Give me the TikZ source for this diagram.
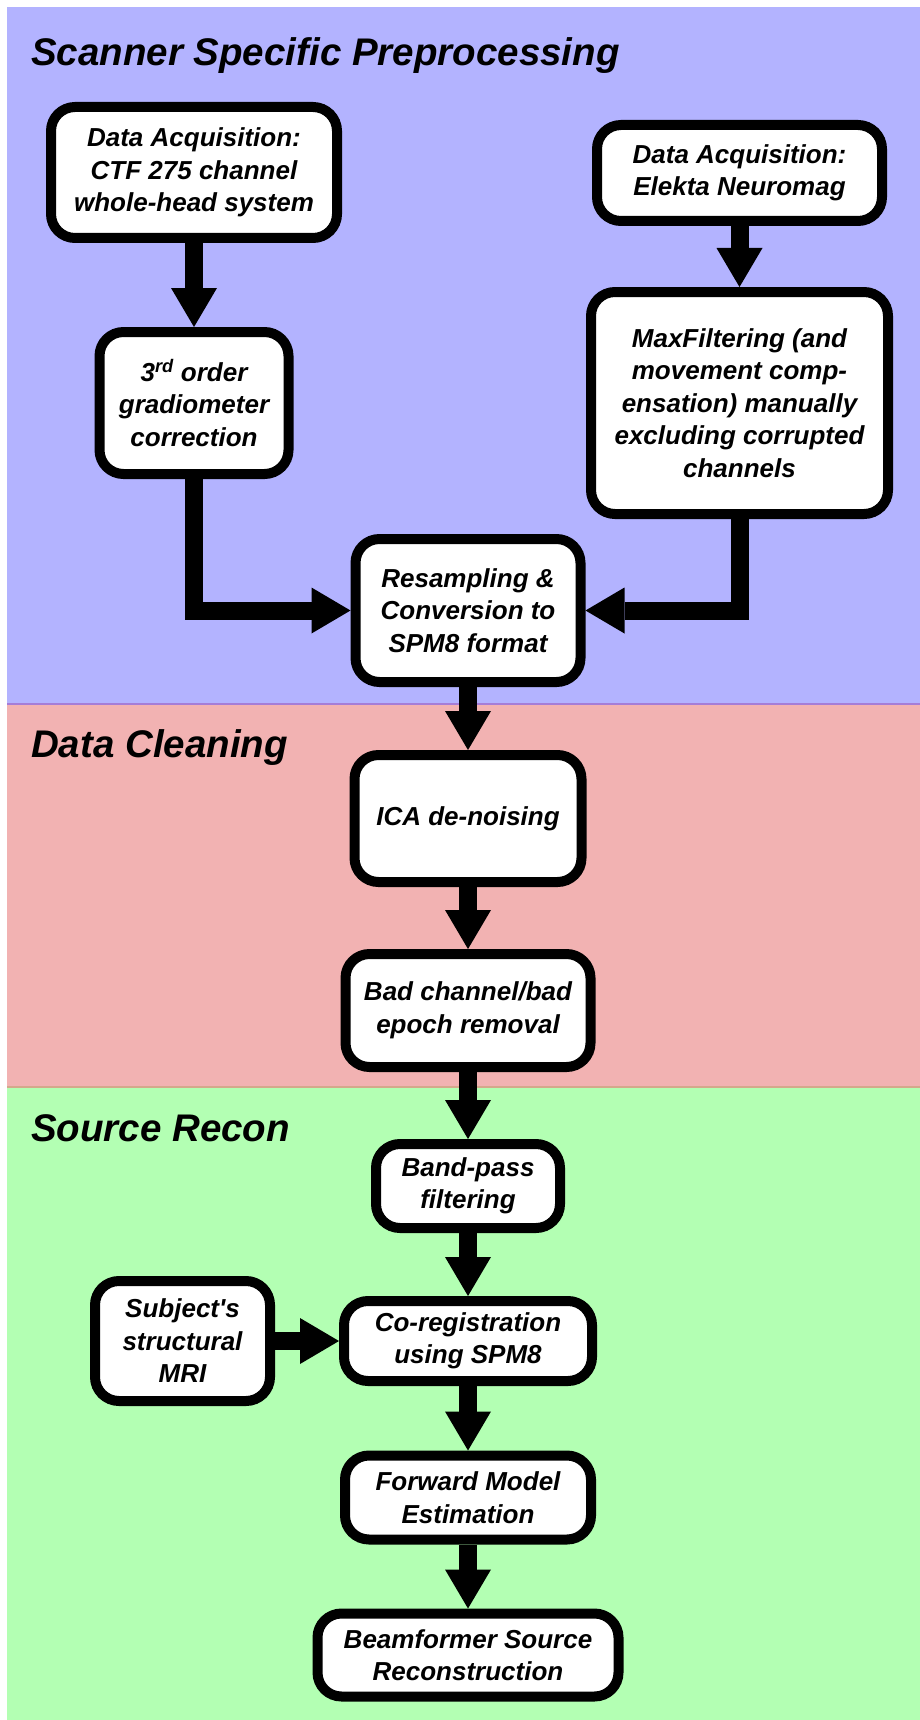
\documentclass[tikz,border=0pt]{standalone}
\usepackage{fontspec}
\newfontfamily\lsans{Liberation Sans}
\usetikzlibrary{arrows.meta}
\definecolor{bluebg}{RGB}{179,179,255}
\definecolor{redbg}{RGB}{242,178,178}
\definecolor{greenbg}{RGB}{179,255,179}
\definecolor{sepone}{RGB}{165,125,215}
\definecolor{septwo}{RGB}{212,168,140}
\begin{document}
\begin{tikzpicture}[x=1pt,y=-1pt,
  box/.style={draw=black, line width=10pt, fill=white, rounded corners=24pt,
    align=center, inner sep=0pt,
    font=\lsans\fontsize{26}{32.5}\selectfont\bfseries\itshape},
  conn/.style={line width=18pt, line join=miter,
    -{Triangle[length=39pt,width=46pt,line width=0pt]}},
  ttl/.style={anchor=base west, inner sep=0pt,
    font=\lsans\fontsize{38.5}{44}\selectfont\bfseries\itshape}]
\useasboundingbox (0,0) rectangle (920,1720);
\fill[white] (0,0) rectangle (920,1720);
% panels
\fill[bluebg] (7,7) rectangle (920,704);
\fill[redbg] (7,704) rectangle (920,1087);
\fill[greenbg] (7,1087) rectangle (920,1720);
\draw[sepone, line width=1.5pt] (7,704) -- (920,704);
\draw[septwo, line width=1.5pt] (7,1087) -- (920,1087);
% titles
\node[ttl] (t1) at (31,66) {Scanner Specific Preprocessing};
\node[ttl] (t2) at (31,757) {Data Cleaning};
\node[ttl] (t3) at (31,1141) {Source Recon};
% boxes
\node[box, minimum width=286pt, minimum height=131pt] (ctf) at (194,172.5)
  {Data Acquisition:\\CTF 275 channel\\whole-head system};
\node[box, minimum width=189pt, minimum height=142pt] (ord) at (194,403)
  {3\textsuperscript{rd} order\\gradiometer\\correction};
\node[box, minimum width=285pt, minimum height=96pt] (ele) at (739.5,173)
  {Data Acquisition:\\Elekta Neuromag};
\node[box, minimum width=297pt, minimum height=222pt] (maxf) at (739.5,403)
  {MaxFiltering (and\\movement comp-\\ensation) manually\\excluding corrupted\\channels};
\node[box, minimum width=225pt, minimum height=143pt] (res) at (468,610.5)
  {Resampling \&\\Conversion to\\SPM8 format};
\node[box, minimum width=227pt, minimum height=127pt] (ica) at (468,818.5)
  {ICA de-noising};
\node[box, minimum width=245pt, minimum height=113pt] (bad) at (468,1010.5)
  {Bad channel/bad\\epoch removal};
\node[box, minimum width=184pt, minimum height=84pt] (band) at (468,1186)
  {Band-pass\\filtering};
\node[box, minimum width=248pt, minimum height=80pt] (coreg) at (468,1341)
  {Co-registration\\using SPM8};
\node[box, minimum width=175pt, minimum height=120pt] (subj) at (182.5,1341)
  {Subject's\\structural\\MRI};
\node[box, minimum width=246pt, minimum height=84pt] (fwd) at (468,1497.5)
  {Forward Model\\Estimation};
\node[box, minimum width=301pt, minimum height=83pt] (beam) at (468,1655)
  {Beamformer Source\\Reconstruction};
% connectors
\draw[conn] (ctf) -- (ord);
\draw[conn] (ele) -- (maxf);
\draw[conn] (ord.south) |- (res.west);
\draw[conn] (maxf.south) |- (res.east);
\draw[conn] (res) -- (ica);
\draw[conn] (ica) -- (bad);
\draw[conn] (bad) -- (band);
\draw[conn] (band) -- (coreg);
\draw[conn] (subj) -- (coreg);
\draw[conn] (coreg) -- (fwd);
\draw[conn] (fwd) -- (beam);
\end{tikzpicture}
\end{document}
